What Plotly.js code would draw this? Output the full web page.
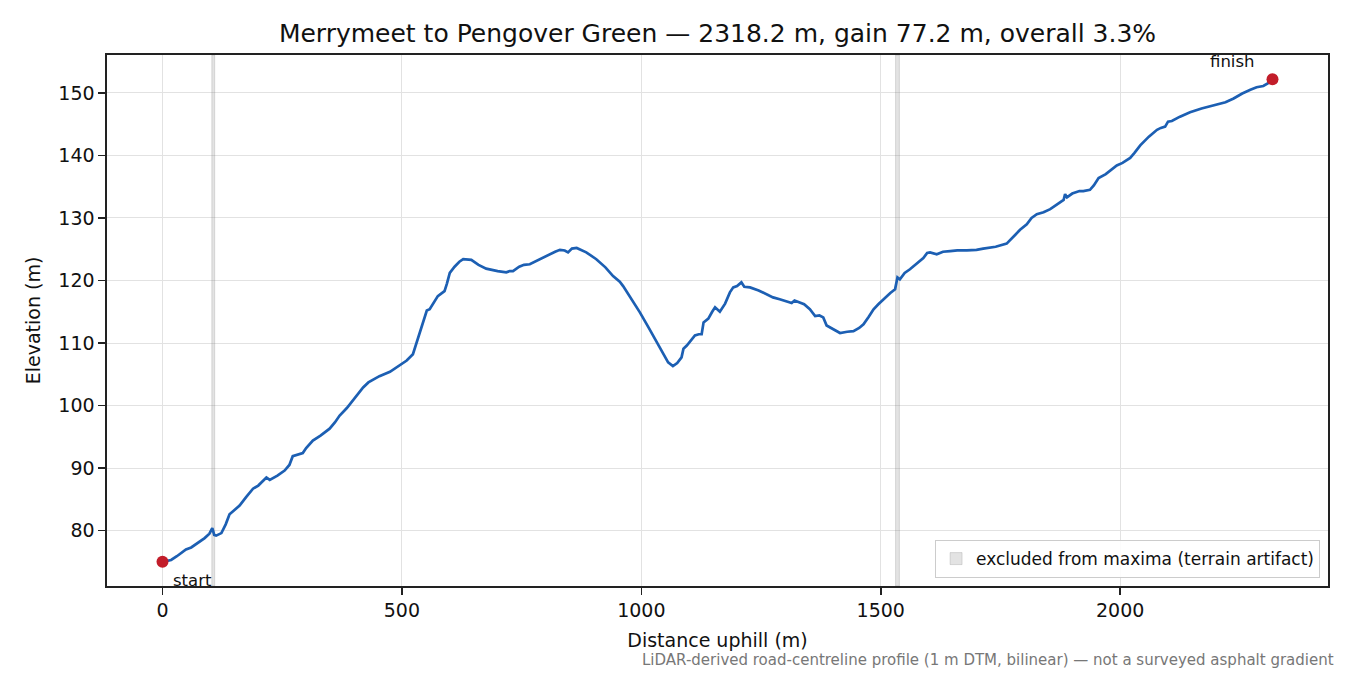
<!DOCTYPE html>
<html>
<head>
<meta charset="utf-8">
<script src="https://cdn.plot.ly/plotly-3.0.1.min.js"></script>
<style>
  html, body { margin: 0; padding: 0; background: #fff; }
  #profile { width: 1350px; height: 675px; }
</style>
</head>
<body>
<div id="profile"></div>
<script>

// distance along the road (m) and elevation (m)
const distance = [
    0, 18, 30, 49, 60, 77, 88, 98, 100, 104, 108, 112, 123, 132, 140, 150, 161, 175, 189, 200,
    210, 217, 224, 240, 255, 265, 272, 283, 293, 300, 314, 330, 349, 360, 370, 385, 398, 410, 419, 430,
    443, 453, 475, 495, 510, 523, 533, 544, 552, 558, 567, 575, 582, 589, 594, 600, 610, 620, 628, 645,
    660, 676, 700, 718, 725, 732, 745, 755, 767, 785, 802, 820, 830, 840, 847, 855, 865, 885, 906, 925,
    941, 955, 962, 980, 997, 1015, 1032, 1045, 1056, 1066, 1075, 1084, 1088, 1095, 1105, 1112, 1120, 1126, 1130, 1140,
    1148, 1154, 1164, 1175, 1185, 1192, 1200, 1209, 1215, 1227, 1245, 1262, 1275, 1289, 1300, 1314, 1320, 1328, 1340, 1352,
    1363, 1372, 1380, 1387, 1400, 1415, 1430, 1443, 1455, 1464, 1475, 1485, 1495, 1509, 1520, 1530, 1535, 1540, 1550, 1561,
    1575, 1589, 1597, 1603, 1617, 1630, 1645, 1660, 1680, 1700, 1714, 1740, 1763, 1775, 1785, 1791, 1805, 1815, 1826, 1840,
    1854, 1870, 1882, 1885, 1889, 1900, 1915, 1923, 1937, 1945, 1955, 1970, 1985, 1993, 2005, 2014, 2021, 2030, 2042, 2060,
    2077, 2085, 2094, 2100, 2108, 2125, 2146, 2170, 2202, 2220, 2237, 2255, 2272, 2285, 2299, 2310, 2318.2
];
const elevation = [
    75.0, 75.3, 75.9, 77.0, 77.3, 78.2, 78.8, 79.5, 79.8, 80.4, 79.3, 79.2, 79.6, 81.0, 82.6, 83.2, 84.0, 85.4, 86.7, 87.2,
    88.0, 88.5, 88.1, 88.8, 89.6, 90.5, 91.9, 92.1, 92.4, 93.2, 94.4, 95.2, 96.3, 97.3, 98.4, 99.6, 100.8, 102.0, 102.9, 103.7,
    104.3, 104.7, 105.4, 106.4, 107.2, 108.2, 110.5, 113.3, 115.2, 115.4, 116.5, 117.5, 117.9, 118.3, 119.5, 121.2, 122.2, 123.0, 123.4, 123.3,
    122.5, 121.9, 121.5, 121.3, 121.5, 121.5, 122.2, 122.5, 122.6, 123.3, 123.9, 124.6, 124.9, 124.8, 124.5, 125.1, 125.2, 124.5, 123.4, 122.1,
    120.7, 119.8, 119.1, 117.0, 114.9, 112.5, 110.1, 108.4, 106.9, 106.3, 106.8, 107.7, 109.1, 109.6, 110.6, 111.2, 111.4, 111.4, 113.3, 113.9,
    115.0, 115.7, 115.0, 116.3, 118.1, 118.9, 119.1, 119.7, 119.0, 118.9, 118.4, 117.8, 117.3, 117.0, 116.7, 116.4, 116.8, 116.6, 116.2, 115.4,
    114.3, 114.4, 114.1, 112.8, 112.2, 111.6, 111.8, 111.9, 112.4, 113.0, 114.2, 115.4, 116.2, 117.3, 118.0, 118.6, 120.5, 120.2, 121.2, 121.8,
    122.7, 123.6, 124.4, 124.5, 124.2, 124.6, 124.7, 124.8, 124.8, 124.9, 125.1, 125.4, 125.9, 126.8, 127.7, 128.1, 129.0, 130.0, 130.6, 130.9,
    131.4, 132.2, 132.9, 133.8, 133.3, 133.9, 134.3, 134.3, 134.5, 135.2, 136.4, 137.0, 137.9, 138.4, 138.8, 139.3, 139.6, 140.4, 141.6, 143.0,
    144.1, 144.4, 144.6, 145.4, 145.5, 146.2, 146.9, 147.5, 148.1, 148.5, 149.1, 149.9, 150.5, 150.9, 151.1, 151.6, 152.2
];

// stretches left out of the maxima (start, end in m)
const excludedStart = [103, 1531];
const excludedEnd = [109, 1539];

const endpointLabels = ['start', 'finish'];

const xTicks = [0, 500, 1000, 1500, 2000];
const yTicks = [80, 90, 100, 110, 120, 130, 140, 150];

const titleText = 'Merrymeet to Pengover Green \u2014 2318.2 m, gain 77.2 m, overall 3.3%';
const noteText = 'LiDAR-derived road-centreline profile (1 m DTM, bilinear) \u2014 not a surveyed asphalt gradient';


function paddedRange(vals, frac) {
    let lo = Math.min(...vals);
    let hi = Math.max(...vals);
    let pad = (hi - lo) * frac;
    return [lo - pad, hi + pad];
}

const xRange = paddedRange(distance, 0.05);
const yRange = paddedRange(elevation, 0.05);

// bands as full-height bars, so the legend gets a box
let band_mid = [];
let band_w = [];
for (let i = 0; i < excludedStart.length; i++) {
    band_mid.push((excludedStart[i] + excludedEnd[i]) / 2);
    band_w.push(excludedEnd[i] - excludedStart[i]);
}

const bands = {
    type: 'bar',
    x: band_mid,
    width: band_w,
    base: yRange[0],
    y: band_mid.map(() => yRange[1] - yRange[0]),
    marker: {
        color: 'rgba(128,128,128,0.22)',
        line: { width: 1, color: 'rgba(128,128,128,0.25)' }
    },
    name: 'excluded from maxima (terrain artifact)',
    hoverinfo: 'skip'
};

const profileLine = {
    type: 'scatter',
    mode: 'lines',
    x: distance,
    y: elevation,
    line: { color: '#1c5fb3', width: 2.7 },
    showlegend: false,
    hoverinfo: 'skip'
};

const last = distance.length - 1;
const endpoints = {
    type: 'scatter',
    mode: 'markers',
    x: [distance[0], distance[last]],
    y: [elevation[0], elevation[last]],
    marker: { color: '#c21d2a', size: 12 },
    showlegend: false,
    hoverinfo: 'skip',
    cliponaxis: false
};

const axisBase = {
    showline: true,
    mirror: true,
    linecolor: '#222',
    linewidth: 1.6,
    ticks: 'outside',
    ticklen: 7,
    tickwidth: 1.6,
    tickcolor: '#222',
    showgrid: true,
    gridcolor: '#e2e2e2',
    gridwidth: 1,
    zeroline: false,
    tickfont: { family: 'DejaVu Sans', size: 19, color: '#111' },
    fixedrange: true
};

const layout = {
    width: 1350,
    height: 675,
    margin: { l: 107, r: 22, t: 55, b: 89 },
    paper_bgcolor: '#fff',
    plot_bgcolor: '#fff',
    font: { family: 'DejaVu Sans', color: '#111' },
    title: {
        text: titleText,
        font: { family: 'DejaVu Sans', size: 25, color: '#111' },
        x: 0.5, xref: 'paper',
        y: 1 - 33 / 675, yref: 'container', yanchor: 'middle'
    },
    xaxis: {
        ...axisBase,
        range: xRange,
        tickvals: xTicks,
        title: { text: 'Distance uphill (m)', font: { family: 'DejaVu Sans', size: 19, color: '#111' }, standoff: 13 }
    },
    yaxis: {
        ...axisBase,
        range: yRange,
        tickvals: yTicks,
        title: { text: 'Elevation (m)', font: { family: 'DejaVu Sans', size: 19, color: '#111' }, standoff: 12 }
    },
    showlegend: true,
    legend: {
        x: 0.9935, xanchor: 'right',
        y: 0.015, yanchor: 'bottom',
        bgcolor: 'rgba(255,255,255,0.9)',
        bordercolor: '#cccccc',
        borderwidth: 1,
        font: { family: 'DejaVu Sans', size: 17, color: '#111' }
    },
    annotations: [
        {
            x: distance[0], y: elevation[0], xref: 'x', yref: 'y',
            text: endpointLabels[0], showarrow: false,
            xanchor: 'left', yanchor: 'middle', xshift: 8, yshift: -19,
            font: { family: 'DejaVu Sans', size: 16.5, color: '#111' }
        },
        {
            x: distance[last], y: elevation[last], xref: 'x', yref: 'y',
            text: endpointLabels[1], showarrow: false,
            xanchor: 'right', yanchor: 'middle', xshift: -16, yshift: 18,
            font: { family: 'DejaVu Sans', size: 16.5, color: '#111' }
        },
        {
            x: (1336 - 107) / 1221, y: -(660 - 586) / 531, xref: 'paper', yref: 'paper',
            text: noteText, showarrow: false,
            xanchor: 'right', yanchor: 'middle',
            font: { family: 'DejaVu Sans', size: 15, color: '#777' }
        }
    ]
};

Plotly.newPlot('profile', [bands, profileLine, endpoints], layout, { displayModeBar: false, staticPlot: true });
</script>
</body>
</html>
